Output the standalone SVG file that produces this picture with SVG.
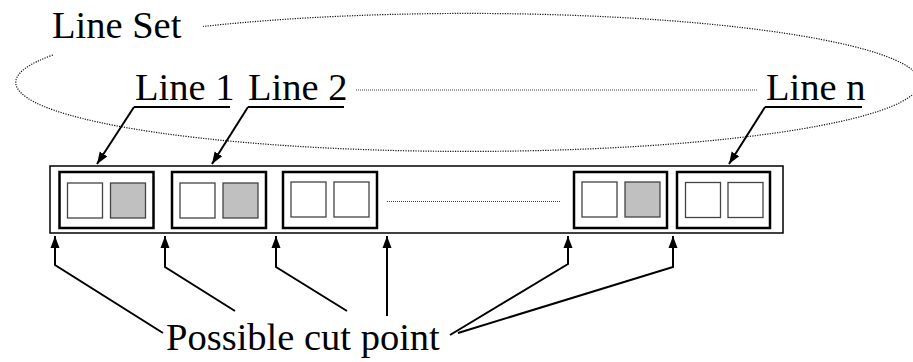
<svg xmlns="http://www.w3.org/2000/svg" width="913" height="362" viewBox="0 0 913 362">
<defs>
<marker id="ah" markerUnits="userSpaceOnUse" markerWidth="13" markerHeight="13" viewBox="0 0 13 13" refX="12" refY="6.5" orient="auto">
<path d="M0,2 L12,6.5 L0,11 Z" fill="#000"/>
</marker>
<style>
.t{font-family:"Liberation Serif","Times New Roman",serif;font-size:38.5px;fill:#000}
.dot{fill:none;stroke:#111;stroke-width:1.2;stroke-dasharray:1.2 1.3}
.dotl{fill:none;stroke:#444;stroke-width:1;stroke-dasharray:1 1}
.ul{stroke:#000;stroke-width:2}
.outer{fill:#fff;stroke:#000;stroke-width:1.5}
.box{fill:#fff;stroke:#000;stroke-width:2.5}
.sq{fill:#fff;stroke:#444;stroke-width:1.3}
.sq.g{fill:#c0c0c0}
.con{fill:none;stroke:#000;stroke-width:2;marker-end:url(#ah)}
</style>
</defs>
<rect width="913" height="362" fill="#fff"/>
<g id="line-set">
<path class="dot" d="M53 55 A452 69 0 1 0 203 26.5"/>
<text class="t" x="52" y="38">Line Set</text>
</g>
<g id="labels">
<text class="t" x="135" y="100">Line 1</text>
<line class="ul" x1="134" y1="107" x2="230" y2="107"/>
<text class="t" x="248" y="100">Line 2</text>
<line class="ul" x1="248" y1="107" x2="344" y2="107"/>
<line class="dotl" x1="356" y1="90" x2="757" y2="90"/>
<text class="t" x="766" y="100">Line n</text>
<line class="ul" x1="765" y1="107" x2="862" y2="107"/>
</g>
<g id="buffer">
<rect class="outer" x="50" y="166" width="733" height="67"/>
<line class="dotl" x1="387" y1="201.5" x2="560" y2="201.5"/>
</g>
<g id="line1">
<rect class="box" x="59.5" y="172" width="94" height="56"/>
<rect class="sq" x="67.5" y="183" width="35" height="35"/>
<rect class="sq g" x="110.5" y="183" width="35" height="35"/>
</g>
<g id="line2">
<rect class="box" x="172" y="172" width="94" height="56"/>
<rect class="sq" x="180" y="183" width="35" height="35"/>
<rect class="sq g" x="223" y="183" width="35" height="35"/>
</g>
<g id="line3">
<rect class="box" x="283" y="172" width="94" height="56"/>
<rect class="sq" x="291" y="182" width="35" height="35"/>
<rect class="sq" x="334" y="182" width="35" height="35"/>
</g>
<g id="line4">
<rect class="box" x="574" y="172" width="93" height="56"/>
<rect class="sq" x="582" y="182" width="35" height="35"/>
<rect class="sq g" x="625" y="182" width="35" height="35"/>
</g>
<g id="linen">
<rect class="box" x="677" y="172" width="93" height="56"/>
<rect class="sq" x="685.5" y="182.5" width="35" height="35"/>
<rect class="sq" x="728" y="182.5" width="35" height="35"/>
</g>
<g id="cut-label">
<text class="t" x="166" y="350">Possible cut point</text>
</g>
<g id="connectors">
<path class="con" d="M134 107 L97 164"/>
<path class="con" d="M248 107 L212 164"/>
<path class="con" d="M765 107 L729 164"/>
<path class="con" d="M163 333 L55 265 L55 236"/>
<path class="con" d="M235 311 L165 267 L165 236"/>
<path class="con" d="M347 311 L276 267 L276 236"/>
<path class="con" d="M387 316 L387 236"/>
<path class="con" d="M450 335 L568 264 L568 236"/>
<path class="con" d="M458 333 L673 267 L673 236"/>
</g>
</svg>
